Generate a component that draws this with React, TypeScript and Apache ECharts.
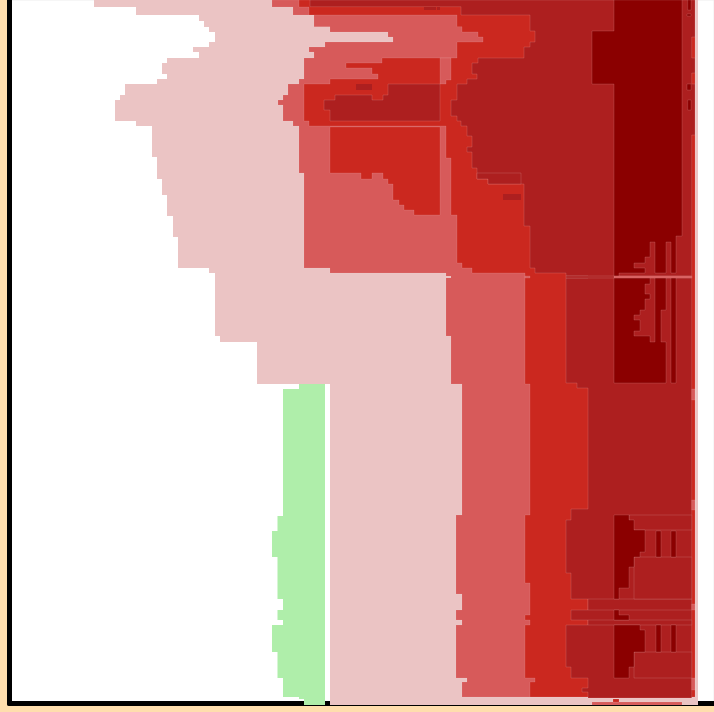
import React, { useEffect, useRef } from "react";
import * as echarts from "echarts";

type Pt = number[];
const box = (x0: number, y0: number, x1: number, y1: number): Pt[] => [[x0, y0], [x1, y0], [x1, y1], [x0, y1]];

const greenRegion: Pt[] = [
  [299, 384], [325, 384], [325, 705], [304, 705], [304, 699], [299, 699], [299, 697], [283, 697], [283, 678], [277.5, 678],
  [277.5, 652], [272, 652], [272, 625], [283, 625], [283, 620], [277.5, 620], [277.5, 610], [283, 610], [283, 599],
  [277.5, 599], [277.5, 557], [272, 557], [272, 531], [277.5, 531], [277.5, 516], [283, 516], [283, 389], [299, 389],
];

const paleRegion: Pt[] = [
  [94, 0], [698, 0], [698, 705], [330, 705], [330, 384], [257, 384], [257, 342], [220, 342], [220, 336], [215, 336],
  [215, 273], [209, 273], [209, 268], [178, 268], [178, 237], [173, 237], [173, 216], [167, 216], [167, 195], [162, 195],
  [162, 179], [157, 179], [157, 157], [152, 157], [152, 126], [136, 126], [136, 121], [115, 121], [115, 100], [120, 100],
  [120, 95], [125, 95], [125, 84], [157, 84], [157, 79], [167, 79], [167, 74], [162, 74], [162, 63], [167, 63], [167, 58],
  [199, 58], [199, 52], [193, 52], [193, 47], [209, 47], [209, 42], [215, 42], [215, 32], [209, 32], [209, 27], [204, 27],
  [204, 21], [199, 21], [199, 15], [136, 15], [136, 7], [94, 7],
];

const mediumRegion: Pt[] = [
  [272, 0], [695, 0], [695, 697], [462, 697], [462, 682], [467, 682], [467, 678], [456, 678], [456, 625], [462, 625],
  [462, 620], [456, 620], [456, 610], [462, 610], [462, 594], [456, 594], [456, 515], [462, 515], [462, 384], [451, 384],
  [451, 336], [446, 336], [446, 273], [330, 273], [330, 268], [304, 268], [304, 173], [299, 173], [299, 126], [293, 126],
  [293, 121], [283, 121], [283, 105], [278, 105], [278, 100], [283, 100], [283, 95], [288, 95], [288, 84], [299, 84],
  [299, 79], [304, 79], [304, 58], [314, 58], [314, 52], [309, 52], [309, 47], [325, 47], [325, 42], [393, 42], [393, 37],
  [388, 37], [388, 32], [330, 32], [330, 26.7], [314, 26.7], [314, 15], [293, 15], [293, 7], [272, 7],
];

const mediumBottomRow: Pt[] = box(592, 702, 682, 705);

const redMain: Pt[] = [
  [299, 0], [695, 0], [695, 697], [530, 697], [530, 682], [535, 682], [535, 678], [525, 678], [525, 625], [530, 625],
  [530, 620], [525, 620], [525, 615], [530, 615], [530, 583], [525, 583], [525, 515], [530, 515], [530, 384], [525, 384],
  [525, 273], [472, 273], [472, 268], [462, 268], [462, 263], [457, 263], [457, 215], [451, 215], [451, 158], [446, 158],
  [446, 126], [309, 126], [309, 121], [304, 121], [304, 84], [330, 84], [330, 79], [378, 79], [378, 74], [372, 74],
  [372, 68], [346, 68], [346, 63], [382, 63], [382, 58], [457, 58], [457, 42], [483, 42], [483, 37], [478, 37], [478, 32],
  [462, 32], [462, 26.7], [457, 26.7], [457, 15], [309, 15], [309, 7], [299, 7],
];

const redLowerBlob: Pt[] = [
  [330, 127], [440, 127], [440, 215], [414, 215], [414, 210], [404, 210], [404, 205], [399, 205], [399, 200], [393, 200],
  [393, 184], [388, 184], [388, 179], [383, 179], [383, 173], [372, 173], [372, 179], [361, 179], [361, 173], [330, 173],
];

const redBottomTick: Pt[] = box(613, 699, 619, 702);

const darkMain: Pt[] = [
  [310, 0], [695, 0], [695, 37], [691.7, 37], [691.7, 58], [695, 58], [695, 73], [691.7, 73], [691.7, 84], [695, 84],
  [695, 135], [691.7, 135], [691.7, 698], [588, 698], [588, 692], [582, 692], [582, 688], [588, 688], [588, 678], [571, 678],
  [571, 667], [566, 667], [566, 625], [588, 625], [588, 620], [571, 620], [571, 610], [588, 610], [588, 599], [571, 599],
  [571, 573], [566, 573], [566, 520], [571, 520], [571, 509], [588, 509], [588, 388], [577, 388], [577, 383], [566, 383],
  [566, 278], [588, 278], [588, 276], [566, 276], [566, 273], [535, 273], [535, 268], [530, 268], [530, 226], [524, 226],
  [524, 184], [488, 184], [488, 179], [477, 179], [477, 168], [472, 168], [472, 152], [467, 152], [467, 147], [472, 147],
  [472, 136], [467, 136], [467, 126], [461, 126], [461, 121], [457, 121], [457, 116], [451, 116], [451, 100], [457, 100],
  [457, 84], [467, 84], [467, 79], [477, 79], [477, 74], [472, 74], [472, 63], [478, 63], [478, 58], [524, 58], [524, 47],
  [530, 47], [530, 42], [535, 42], [535, 31], [530, 31], [530, 15], [461, 15], [461, 6.7], [310, 6.7],
];

const darkInnerBlob: Pt[] = [
  [388, 84], [440, 84], [440, 121], [330, 121], [330, 110], [324, 110], [324, 100], [335, 100], [335, 95], [372, 95],
  [372, 100], [383, 100], [383, 95], [388, 95],
];

const darkSeam: Pt[] = [[477, 173], [521, 173], [521, 184], [488, 184], [488, 179], [477, 179]];

const darkSeams: Pt[][] = [
  darkSeam,
  box(588, 599, 691.7, 610), box(588, 620, 691.7, 625), box(634, 557, 691.7, 599), box(629, 515, 691.7, 530),
  box(634, 652, 691.7, 678), box(566, 276, 691.7, 278),
];

const darkFlecks: Pt[][] = [box(356, 84, 372, 90), box(424, 7, 436, 10), box(437, 7, 440, 10), box(503, 194, 521, 200)];

const darkestUpper: Pt[] = [
  [614, 0], [682, 0], [682, 236], [676, 236], [676, 273], [671, 273], [671, 242], [666, 242], [666, 273], [655, 273],
  [655, 242], [650, 242], [650, 257], [645, 257], [645, 263], [634, 263], [634, 268], [645, 268], [645, 273], [619, 273],
  [619, 276], [614, 276], [614, 84], [592, 84], [592, 31], [614, 31],
];

const darkestMiddle: Pt[] = [
  [614, 278], [650, 278], [650, 284], [645, 284], [645, 294], [650, 294], [650, 299], [645, 299], [645, 310], [640, 310],
  [640, 315], [634, 315], [634, 320], [640, 320], [640, 331], [634, 331], [634, 336], [650, 336], [650, 342], [655, 342],
  [655, 278], [666, 278], [666, 310], [661, 310], [661, 342], [666, 342], [666, 383], [614, 383],
];

const darkestLowerA: Pt[] = [
  [614, 515], [629, 515], [629, 520], [634, 520], [634, 530], [645, 530], [645, 552], [640, 552], [640, 557], [634, 557],
  [634, 567], [629, 567], [629, 588], [619, 588], [619, 599], [614, 599],
];

const darkestLowerB: Pt[] = [[614, 610], [619, 610], [619, 615], [629, 615], [629, 620], [614, 620]];

const darkestLowerC: Pt[] = [
  [614, 625], [640, 625], [640, 630], [645, 630], [645, 652], [634, 652], [634, 667], [629, 667], [629, 678], [614, 678],
];

const darkestSmall: Pt[][] = [
  box(671, 278, 676, 383), box(656, 531, 661, 557), box(671, 531, 676, 557), box(656, 625, 661, 652), box(671, 625, 676, 652),
  box(687.7, 0, 691, 10), box(687, 14, 691, 16), box(687, 84, 691, 90), box(687.7, 100, 691, 110),
];

const mediumPatches: Pt[][] = [
  [[440, 58], [451, 58], [451, 80], [446, 80], [446, 84], [440, 84]],
  box(614, 276, 691.7, 278),
  box(525, 276, 530, 278),
  box(691.7, 389, 695, 400),
  box(691.7, 500, 695, 510),
  box(691.7, 604, 695, 610),
  box(691.7, 678, 695, 690),
];

const paleTicks: Pt[][] = [box(446, 276, 451, 278)];

const GREEN = "#afeeaa";
const PALE = "#ebc4c4";
const MEDIUM = "#d75a5a";
const RED = "#cb281f";
const DARK = "#ad1f1f";
const DARKEST = "#8b0000";
const NONE = "rgba(255,255,255,0)";

const layers: { regions: Pt[][]; fill: string; stroke: string }[] = [
  { regions: [greenRegion], fill: GREEN, stroke: NONE },
  { regions: [paleRegion], fill: PALE, stroke: NONE },
  { regions: [mediumRegion, mediumBottomRow], fill: MEDIUM, stroke: "rgba(255,255,255,0.07)" },
  { regions: [redMain, redLowerBlob, redBottomTick], fill: RED, stroke: "rgba(255,255,255,0.1)" },
  { regions: [darkMain, darkInnerBlob, ...darkSeams], fill: DARK, stroke: "rgba(255,255,255,0.13)" },
  { regions: darkFlecks, fill: DARK, stroke: NONE },
  { regions: [darkestUpper, darkestMiddle, darkestLowerA, darkestLowerB, darkestLowerC, ...darkestSmall], fill: DARKEST, stroke: "rgba(255,255,255,0.13)" },
  { regions: mediumPatches, fill: MEDIUM, stroke: "rgba(255,255,255,0.1)" },
  { regions: paleTicks, fill: PALE, stroke: NONE },
];

export default function App() {
  const ref = useRef<HTMLDivElement>(null);
  useEffect(() => {
    const chart = echarts.init(ref.current!, undefined, { renderer: "svg" });
    chart.setOption({
      animation: false,
      backgroundColor: "#ffdead",
      grid: {
        left: 9.5, top: 0, width: 704.5, height: 703.5,
        show: true, backgroundColor: "#fff", borderColor: "#eeeeee", borderWidth: 1,
      },
      xAxis: {
        type: "value", min: 9.5, max: 714,
        axisLabel: { show: false }, axisTick: { show: false }, splitLine: { show: false },
        axisLine: { show: true, onZero: false, lineStyle: { color: "#000", width: 5 } },
      },
      yAxis: {
        type: "value", min: 0, max: 703.5, inverse: true,
        axisLabel: { show: false }, axisTick: { show: false }, splitLine: { show: false },
        axisLine: { show: true, onZero: false, lineStyle: { color: "#000", width: 5 } },
      },
      series: layers.map((layer) => ({
        type: "custom",
        coordinateSystem: "cartesian2d",
        clip: false,
        silent: true,
        encode: { x: 0, y: 1 },
        data: layer.regions.map((r) => r[0]),
        renderItem: (params: any, api: any) => ({
          type: "polygon",
          shape: { points: layer.regions[params.dataIndex].map((p) => api.coord(p)) },
          style: { fill: layer.fill, stroke: layer.stroke, lineWidth: 1 },
        }),
      })),
    });
    return () => chart.dispose();
  }, []);
  return <div ref={ref} style={{ position: "fixed", left: 0, top: 0, width: 714, height: 712 }} />;
}
